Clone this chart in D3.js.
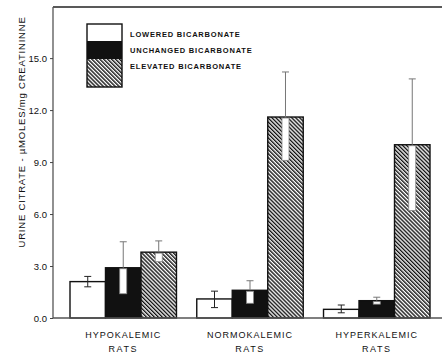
<!DOCTYPE html>
<html>
<head>
<meta charset="utf-8">
<script src="https://cdn.jsdelivr.net/npm/d3@7"></script>
<style>
  body { margin: 0; background: #fff; }
  svg { display: block; }
  text { font-family: "Liberation Sans", Arial, sans-serif; fill: #111; }
</style>
</head>
<body>
<svg id="chart" width="442" height="353"></svg>
<script>
// data
var groups = ['HYPOKALEMIC', 'NORMOKALEMIC', 'HYPERKALEMIC'];
var series = ['LOWERED BICARBONATE', 'UNCHANGED BICARBONATE', 'ELEVATED BICARBONATE'];
var means = [
  [2.1, 2.9, 3.8],
  [1.1, 1.6, 11.6],
  [0.5, 1.0, 10.0]
];
var errHi = [
  [2.4, 4.4, 4.45],
  [1.55, 2.15, 14.2],
  [0.75, 1.2, 13.8]
];
var errLo = [
  [1.8, 1.4, 3.25],
  [0.6, 0.85, 9.1],
  [0.3, 0.8, 6.2]
];
var yTicks = [0, 3, 6, 9, 12, 15];

var svg = d3.select('#chart');
var mLeft = 53, mRight = 442, mTop = 7, mBottom = 318;

var y = d3.scaleLinear().domain([0, 17.95]).range([mBottom, mTop]);
var x0 = d3.scaleBand().domain(groups).range([70, 430]).paddingInner(0.16).paddingOuter(0);
var x1 = d3.scaleBand().domain(series).range([0, x0.bandwidth()]);

// hatch pattern, lines running top-left to bottom-right
var defs = svg.append('defs');
var pat = defs.append('pattern').attr('id', 'hatch').attr('patternUnits', 'userSpaceOnUse')
  .attr('width', 2.8).attr('height', 2.8).attr('patternTransform', 'rotate(-45)');
pat.append('rect').attr('width', 2.8).attr('height', 2.8).attr('fill', '#fff');
pat.append('rect').attr('width', 1.4).attr('height', 2.8).attr('fill', '#111');

var fills = ['#fff', '#111', 'url(#hatch)'];

// frame: top line and left axis
svg.append('line').attr('x1', mLeft).attr('x2', mRight).attr('y1', mTop).attr('y2', mTop)
  .attr('stroke', '#222').attr('stroke-width', 1.6);
svg.append('line').attr('x1', mLeft).attr('x2', mLeft).attr('y1', mTop).attr('y2', mBottom)
  .attr('stroke', '#555').attr('stroke-width', 1.3);

// y axis
var yAxis = d3.axisLeft(y).tickValues(yTicks).tickSize(3).tickPadding(3)
  .tickFormat(function(d) { return d === 0 ? '0.0' : d3.format('.1f')(d); });
var ga = svg.append('g').attr('transform', 'translate(' + mLeft + ',0)').call(yAxis);
ga.select('.domain').remove();
ga.selectAll('line').attr('stroke', '#444');
ga.selectAll('text').style('font-size', '9.5px').attr('fill', '#222');

// bars
var g = svg.selectAll('g.grp').data(groups).enter().append('g').attr('class', 'grp')
  .attr('transform', function(d) { return 'translate(' + x0(d) + ',0)'; });

series.forEach(function(s, j) {
  g.append('rect')
    .attr('x', x1(s))
    .attr('y', function(d, i) { return y(means[i][j]); })
    .attr('width', x1.bandwidth())
    .attr('height', function(d, i) { return mBottom - y(means[i][j]); })
    .attr('fill', fills[j])
    .attr('stroke', '#111').attr('stroke-width', 1.4);
});

// error bars
series.forEach(function(s, j) {
  var cx = x1(s) + x1.bandwidth() / 2;
  g.each(function(d, i) {
    var el = d3.select(this);
    var hi = y(errHi[i][j]), lo = y(errLo[i][j]), m = y(means[i][j]);
    if (j === 0) {
      el.append('line').attr('x1', cx).attr('x2', cx).attr('y1', hi).attr('y2', lo)
        .attr('stroke', '#222').attr('stroke-width', 1);
      [hi, lo].forEach(function(v) {
        el.append('line').attr('x1', cx - 3.5).attr('x2', cx + 3.5).attr('y1', v).attr('y2', v)
          .attr('stroke', '#222').attr('stroke-width', 1);
      });
    } else {
      el.append('line').attr('x1', cx).attr('x2', cx).attr('y1', hi).attr('y2', m)
        .attr('stroke', '#777').attr('stroke-width', 1);
      el.append('line').attr('x1', cx - 3.5).attr('x2', cx + 3.5).attr('y1', hi).attr('y2', hi)
        .attr('stroke', '#777').attr('stroke-width', 1);
      el.append('rect').attr('x', cx - 3.5).attr('y', m + 1).attr('width', 7).attr('height', Math.max(lo - m - 1, 1))
        .attr('fill', '#fff').attr('stroke', '#888').attr('stroke-width', 0.8);
    }
  });
});

// bottom axis
svg.append('line').attr('x1', mLeft).attr('x2', mRight).attr('y1', mBottom).attr('y2', mBottom)
  .attr('stroke', '#555').attr('stroke-width', 1.3);

// category labels
g.append('text').attr('x', x0.bandwidth() / 2).attr('y', 338).attr('text-anchor', 'middle')
  .style('font-size', '9px').style('letter-spacing', '1px').text(function(d) { return d; });
g.append('text').attr('x', x0.bandwidth() / 2).attr('y', 352).attr('text-anchor', 'middle')
  .style('font-size', '9px').style('letter-spacing', '1.5px').text('RATS');

// y label
svg.append('text').attr('transform', 'translate(25,132) rotate(-90)').attr('text-anchor', 'middle')
  .style('font-size', '9.5px').style('letter-spacing', '0.8px')
  .text('URINE  CITRATE - \u00b5MOLES/mg  CREATININNE');

// legend
var lg = svg.append('g');
var lx = 87, ly = 24, lw = 35, lh = [17, 18, 28];
var yy = ly;
series.forEach(function(s, j) {
  lg.append('rect').attr('x', lx).attr('y', yy).attr('width', lw).attr('height', lh[j])
    .attr('fill', fills[j]);
  lg.append('text').attr('x', 130).attr('y', 37 + j * 16).style('font-size', '7.5px')
    .style('letter-spacing', '0.8px').style('font-weight', 'bold').text(s);
  yy += lh[j];
});
lg.append('rect').attr('x', lx).attr('y', ly).attr('width', lw).attr('height', yy - ly)
  .attr('fill', 'none').attr('stroke', '#111').attr('stroke-width', 1.4);
</script>
</body>
</html>
